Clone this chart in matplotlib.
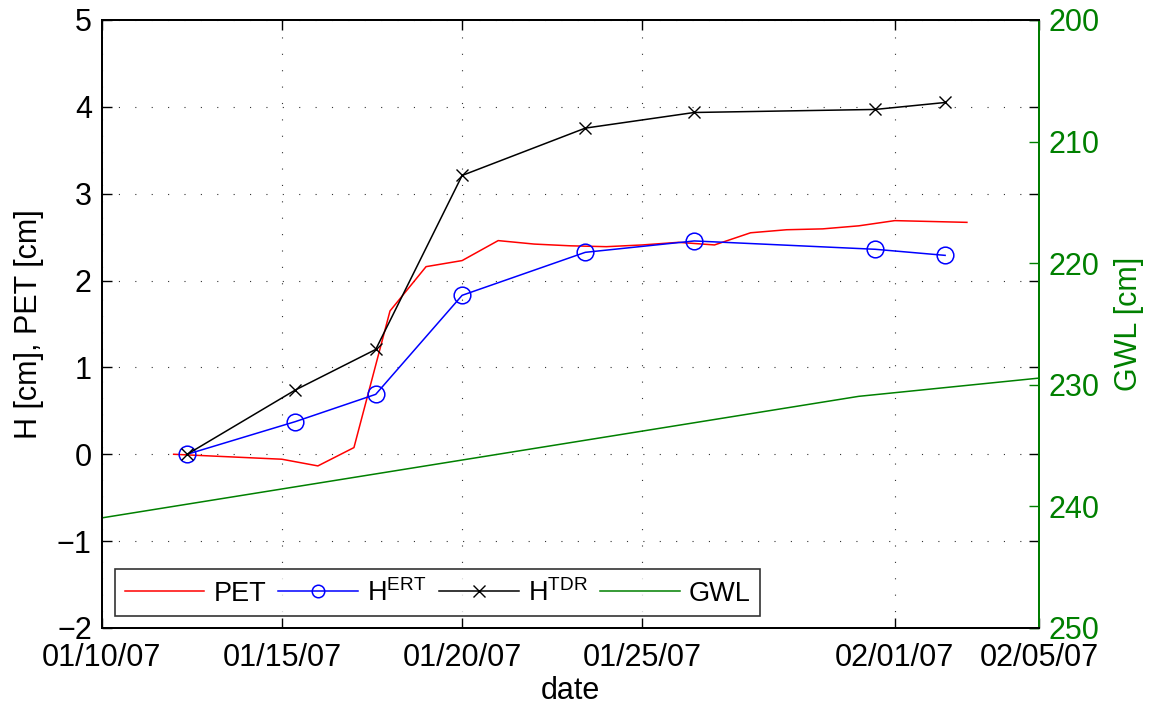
import pandas as pd
import matplotlib
matplotlib.use('Agg')
import matplotlib.pyplot as plt
import matplotlib.dates as mdates

plt.rcParams['font.family'] = ['Liberation Sans', 'DejaVu Sans']
plt.rcParams['mathtext.fontset'] = 'custom'
plt.rcParams['mathtext.rm'] = 'Liberation Sans'
plt.rcParams['mathtext.it'] = 'Liberation Sans:italic'
plt.rcParams['lines.scale_dashes'] = False

# ---- data ----
pet_dates = ['2007-01-12', '2007-01-15', '2007-01-16', '2007-01-17', '2007-01-18',
             '2007-01-19', '2007-01-20', '2007-01-21', '2007-01-22', '2007-01-23',
             '2007-01-24', '2007-01-25', '2007-01-26', '2007-01-27', '2007-01-28',
             '2007-01-29', '2007-01-30', '2007-01-31', '2007-02-01', '2007-02-03']
pet = [0.0, -0.057, -0.134, 0.077, 1.65, 2.16, 2.23, 2.46, 2.42, 2.40,
       2.39, 2.41, 2.44, 2.41, 2.55, 2.585, 2.595, 2.63, 2.69, 2.67]

meas_dates = ['2007-01-12 09:00', '2007-01-15 09:00', '2007-01-17 14:30', '2007-01-20 00:00',
              '2007-01-23 10:00', '2007-01-26 10:30', '2007-01-31 11:00', '2007-02-02 09:30']
h_ert = [0.0, 0.376, 0.69, 1.83, 2.325, 2.456, 2.36, 2.29]
h_tdr = [0.0, 0.74, 1.207, 3.21, 3.755, 3.935, 3.97, 4.05]

gwl_dates = ['2007-01-10', '2007-01-31', '2007-02-05']
gwl = [240.95, 230.95, 229.45]

tick_dates = ['2007-01-10', '2007-01-15', '2007-01-20', '2007-01-25', '2007-02-01', '2007-02-05']
# ---- end data ----

green = '#008000'
fs = 22

fig = plt.figure(figsize=(11.5, 7.06), dpi=100)
ax = fig.add_axes([0.0883, 0.1105, 0.8152, 0.8612])
ax2 = ax.twinx()

l_pet, = ax.plot(pd.to_datetime(pet_dates), pet, color='red', lw=1.1, label='PET')
l_ert, = ax.plot(pd.to_datetime(meas_dates), h_ert, color='blue', lw=1.1, marker='o',
                 ms=12, mfc='none', mew=1.1, label=r'H$^{\rm ERT}$')
l_tdr, = ax.plot(pd.to_datetime(meas_dates), h_tdr, color='black', lw=1.1, marker='x',
                 ms=9, mew=1.0, label=r'H$^{\rm TDR}$')
l_gwl, = ax2.plot(pd.to_datetime(gwl_dates), gwl, color=green, lw=1.1, label='GWL')

ax.set_xlim(pd.Timestamp('2007-01-10'), pd.Timestamp('2007-02-05'))
ax.set_ylim(-2, 5)
ax.set_yticks(range(-2, 6))
ax.set_xticks(pd.to_datetime(tick_dates))
ax.xaxis.set_major_formatter(mdates.DateFormatter('%m/%d/%y'))

ax2.set_ylim(250, 200)
ax2.set_yticks(range(200, 251, 10))

ax.grid(True, linestyle=(0, (0.8, 11)), color='0.2', lw=0.8)
ax.tick_params(direction='in', length=7, width=1.0, labelsize=fs, pad=7,
               top=True, right=True)
ax.tick_params(axis='x', pad=11)
ax2.tick_params(direction='in', length=7, width=1.0, labelsize=fs, pad=7,
                colors=green)

for s in ax.spines.values():
    s.set_linewidth(1.4)
for s in ax2.spines.values():
    s.set_linewidth(1.4)
ax2.spines['right'].set_color(green)

ax.set_xlabel('date', fontsize=fs, labelpad=2)
ax.set_ylabel('H [cm], PET [cm]', fontsize=fs)
ax.yaxis.set_label_coords(-0.0616, 0.5)
ax2.set_ylabel('GWL [cm]', fontsize=fs, color=green)
ax2.yaxis.set_label_coords(1.080, 0.5)

leg = ax2.legend(handles=[l_pet, l_ert, l_tdr, l_gwl], loc='lower left',
                 bbox_to_anchor=(0.0144, 0.0197), ncol=4, fontsize=19.5,
                 frameon=True, fancybox=False, edgecolor='black',
                 handlelength=2.95, handletextpad=0.33, columnspacing=0.45,
                 borderpad=0.35, borderaxespad=0.0)
leg.get_frame().set_linewidth(1.2)
for h in leg.legend_handles:
    h.set_markersize(9)

plt.savefig('out.png', dpi=100)
